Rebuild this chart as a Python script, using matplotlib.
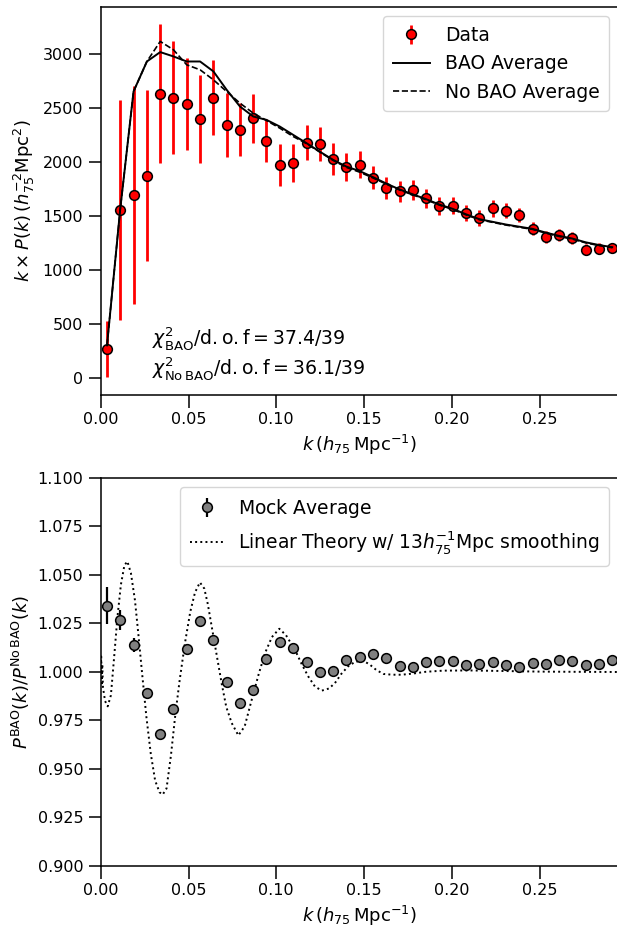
import matplotlib
matplotlib.use("Agg")
import matplotlib.pyplot as plt
import numpy as np

# k bins (h75 Mpc^-1), shared by both panels
k = [0.0036, 0.0111, 0.0187, 0.0263, 0.0339, 0.0414, 0.0490, 0.0566, 0.0642,
     0.0717, 0.0793, 0.0869, 0.0944, 0.1020, 0.1096, 0.1172, 0.1247, 0.1323,
     0.1399, 0.1475, 0.1550, 0.1626, 0.1702, 0.1777, 0.1853, 0.1929, 0.2005,
     0.2080, 0.2156, 0.2232, 0.2308, 0.2383, 0.2459, 0.2535, 0.2610, 0.2686,
     0.2762, 0.2838, 0.2913]

# top panel: k x P(k)
kpk_data = [263, 1556, 1692, 1874, 2632, 2597, 2536, 2397, 2597, 2344, 2298,
            2403, 2196, 1970, 1989, 2180, 2165, 2026, 1957, 1976, 1855, 1757,
            1729, 1741, 1664, 1590, 1596, 1525, 1479, 1571, 1549, 1506, 1382,
            1302, 1324, 1293, 1187, 1197, 1206]
kpk_err = [260, 1020, 1013, 790, 645, 526, 425, 405, 348, 294, 247, 230, 201,
           193, 175, 158, 155, 147, 130, 125, 110, 102, 96, 96, 88, 85, 79, 76,
           73, 77, 70, 65, 57, 57, 56, 54, 50, 50, 45]
bao_avg = [300, 1560, 2653, 2931, 3018, 2978, 2931, 2931, 2839, 2669, 2514,
           2421, 2390, 2328, 2251, 2174, 2096, 2020, 1957, 1915, 1860, 1800,
           1745, 1700, 1655, 1605, 1565, 1515, 1470, 1445, 1420, 1400, 1380,
           1345, 1315, 1290, 1255, 1230, 1210]
nobao_avg = [300, 1560, 2653, 2931, 3117, 3040, 2900, 2854, 2761, 2653, 2545,
             2452, 2384, 2313, 2236, 2170, 2092, 2015, 1950, 1905, 1852, 1795,
             1740, 1695, 1650, 1600, 1560, 1510, 1465, 1440, 1415, 1395, 1375,
             1340, 1310, 1285, 1250, 1225, 1205]

# bottom panel: ratio of mock averages
ratio_mock = [1.0342, 1.0268, 1.0137, 0.9892, 0.9678, 0.9809, 1.0120, 1.0263,
              1.0165, 0.9946, 0.9842, 0.9907, 1.0069, 1.0155, 1.0122, 1.0052,
              1.0002, 1.0006, 1.0063, 1.0079, 1.0094, 1.0072, 1.0032, 1.0026,
              1.0050, 1.0057, 1.0057, 1.0038, 1.0043, 1.0050, 1.0034, 1.0026,
              1.0046, 1.0041, 1.0062, 1.0057, 1.0036, 1.0039, 1.0062]
ratio_err = [0.0095, 0.0050, 0.0036, 0.0022, 0.0018, 0.0016, 0.0014, 0.0013,
             0.0012, 0.0011, 0.0010, 0.0010, 0.0009, 0.0009, 0.0008, 0.0008,
             0.0008, 0.0007, 0.0007, 0.0007, 0.0007, 0.0006, 0.0006, 0.0006,
             0.0006, 0.0006, 0.0005, 0.0005, 0.0005, 0.0005, 0.0005, 0.0005,
             0.0005, 0.0005, 0.0005, 0.0005, 0.0005, 0.0005, 0.0005]

# linear theory curve
k_lin = [0.0000, 0.0003, 0.0006, 0.0009, 0.0013, 0.0025, 0.0040, 0.0058,
         0.0075, 0.0095, 0.0115, 0.0135, 0.0152, 0.0172, 0.0195, 0.0215,
         0.0235, 0.0260, 0.0285, 0.0310, 0.0335, 0.0353, 0.0375, 0.0400,
         0.0425, 0.0450, 0.0480, 0.0510, 0.0537, 0.0565, 0.0590, 0.0610,
         0.0632, 0.0660, 0.0689, 0.0715, 0.0746, 0.0784, 0.0820, 0.0860,
         0.0900, 0.0936, 0.0975, 0.1017, 0.1055, 0.1106, 0.1145, 0.1182,
         0.1220, 0.1259, 0.1300, 0.1334, 0.1370, 0.1410, 0.1450, 0.1494,
         0.1530, 0.1570, 0.1610, 0.1660, 0.1714, 0.1780, 0.1850, 0.1950,
         0.2100, 0.2300, 0.2500, 0.2700, 0.2950]
ratio_lin = [1.000, 1.008, 0.993, 1.004, 0.992, 0.985, 0.9823, 0.988,
             1.006, 1.028, 1.045, 1.055, 1.057, 1.051, 1.037, 1.019,
             1.000, 0.977, 0.958, 0.944, 0.938, 0.9368, 0.940, 0.957,
             0.978, 0.996, 1.015, 1.031, 1.041, 1.0462, 1.043, 1.035,
             1.0235, 1.009, 0.994, 0.982, 0.9737, 0.9673, 0.972, 0.9857,
             0.999, 1.0098, 1.018, 1.0223, 1.019, 1.0115, 1.004, 0.9977,
             0.9925, 0.9904, 0.9915, 0.9943, 0.999, 1.003, 1.0053, 1.0058,
             1.004, 1.001, 0.999, 0.9986, 0.9986, 0.9992, 1.0001, 1.0007,
             1.0008, 1.0005, 1.0002, 1.0001, 1.0000]

plt.rcParams["font.family"] = "DejaVu Sans"
plt.rcParams["mathtext.fontset"] = "dejavusans"
plt.rcParams["axes.linewidth"] = 1.1
plt.rcParams["xtick.major.size"] = 9
plt.rcParams["ytick.major.size"] = 9
plt.rcParams["xtick.major.width"] = 1.1
plt.rcParams["ytick.major.width"] = 1.1
plt.rcParams["xtick.labelsize"] = 11.5
plt.rcParams["ytick.labelsize"] = 11.5
plt.rcParams["axes.labelsize"] = 13
plt.rcParams["legend.fontsize"] = 13.5

fig = plt.figure(figsize=(6.17, 9.31), dpi=100)
left = 100.7 / 617
width = (618.5 - 100.7) / 617
kmax = (618.5 - 100.7) / 1756
ax1 = fig.add_axes([left, 1 - 395 / 931, width, 388 / 931])
ax2 = fig.add_axes([left, 1 - 866 / 931, width, 388 / 931])

data_h = ax1.errorbar(k, kpk_data, yerr=kpk_err, fmt="o", color="red", ecolor="red",
                      elinewidth=2, markersize=7, markeredgecolor="black",
                      markeredgewidth=1.1, label="Data", zorder=3)
bao_h, = ax1.plot(k, bao_avg, "-", color="black", lw=1.4, label="BAO Average", zorder=4)
nobao_h, = ax1.plot(k, nobao_avg, "--", color="black", lw=1.2, label="No BAO Average", zorder=4)
ax1.text(0.029, 368, r"$\chi^2_{\rm BAO}/\mathrm{d.o.f} = 37.4/39$",
         fontsize=13.6, va="center")
ax1.text(0.029, 90, r"$\chi^2_{\rm No\,BAO}/\mathrm{d.o.f} = 36.1/39$",
         fontsize=13.6, va="center")
ax1.set_xlim(0, kmax)
ax1.set_ylim(-160, 3436)
ax1.set_yticks([0, 500, 1000, 1500, 2000, 2500, 3000])
ax1.set_xticks([0.0, 0.05, 0.10, 0.15, 0.20, 0.25])
ax1.set_xlabel(r"$k\,(h_{75}\,\mathrm{Mpc}^{-1})$")
ax1.set_ylabel(r"$k \times P(k)\,(h_{75}^{-2}\mathrm{Mpc}^2)$")
ax1.legend(handles=[data_h, bao_h, nobao_h], loc="upper right",
           handlelength=2.0, borderpad=0.5)

mock_h = ax2.errorbar(k, ratio_mock, yerr=ratio_err, fmt="o", color="grey", ecolor="black",
                      elinewidth=1.6, markersize=7, markeredgecolor="black",
                      markeredgewidth=1.1, label=r"$\rm Mock\ Average$", zorder=3)
lin_h, = ax2.plot(k_lin, ratio_lin, ":", color="black", lw=1.4,
                  label=r"$\rm Linear\;Theory\;w/\;13\mathit{h}_{75}^{-1}Mpc\ smoothing$")
ax2.set_xlim(0, kmax)
ax2.set_ylim(0.9, 1.1)
ax2.set_yticks(np.arange(0.9, 1.1001, 0.025))
ax2.set_xticks([0.0, 0.05, 0.10, 0.15, 0.20, 0.25])
ax2.set_xlabel(r"$k\,(h_{75}\,\mathrm{Mpc}^{-1})$")
ax2.set_ylabel(r"$P^{\rm BAO}(k)/P^{\rm No\,BAO}(k)$")
ax2.legend(handles=[mock_h, lin_h], loc="upper right",
           handlelength=1.8, borderpad=0.5)

fig.savefig("out.png", dpi=100)
